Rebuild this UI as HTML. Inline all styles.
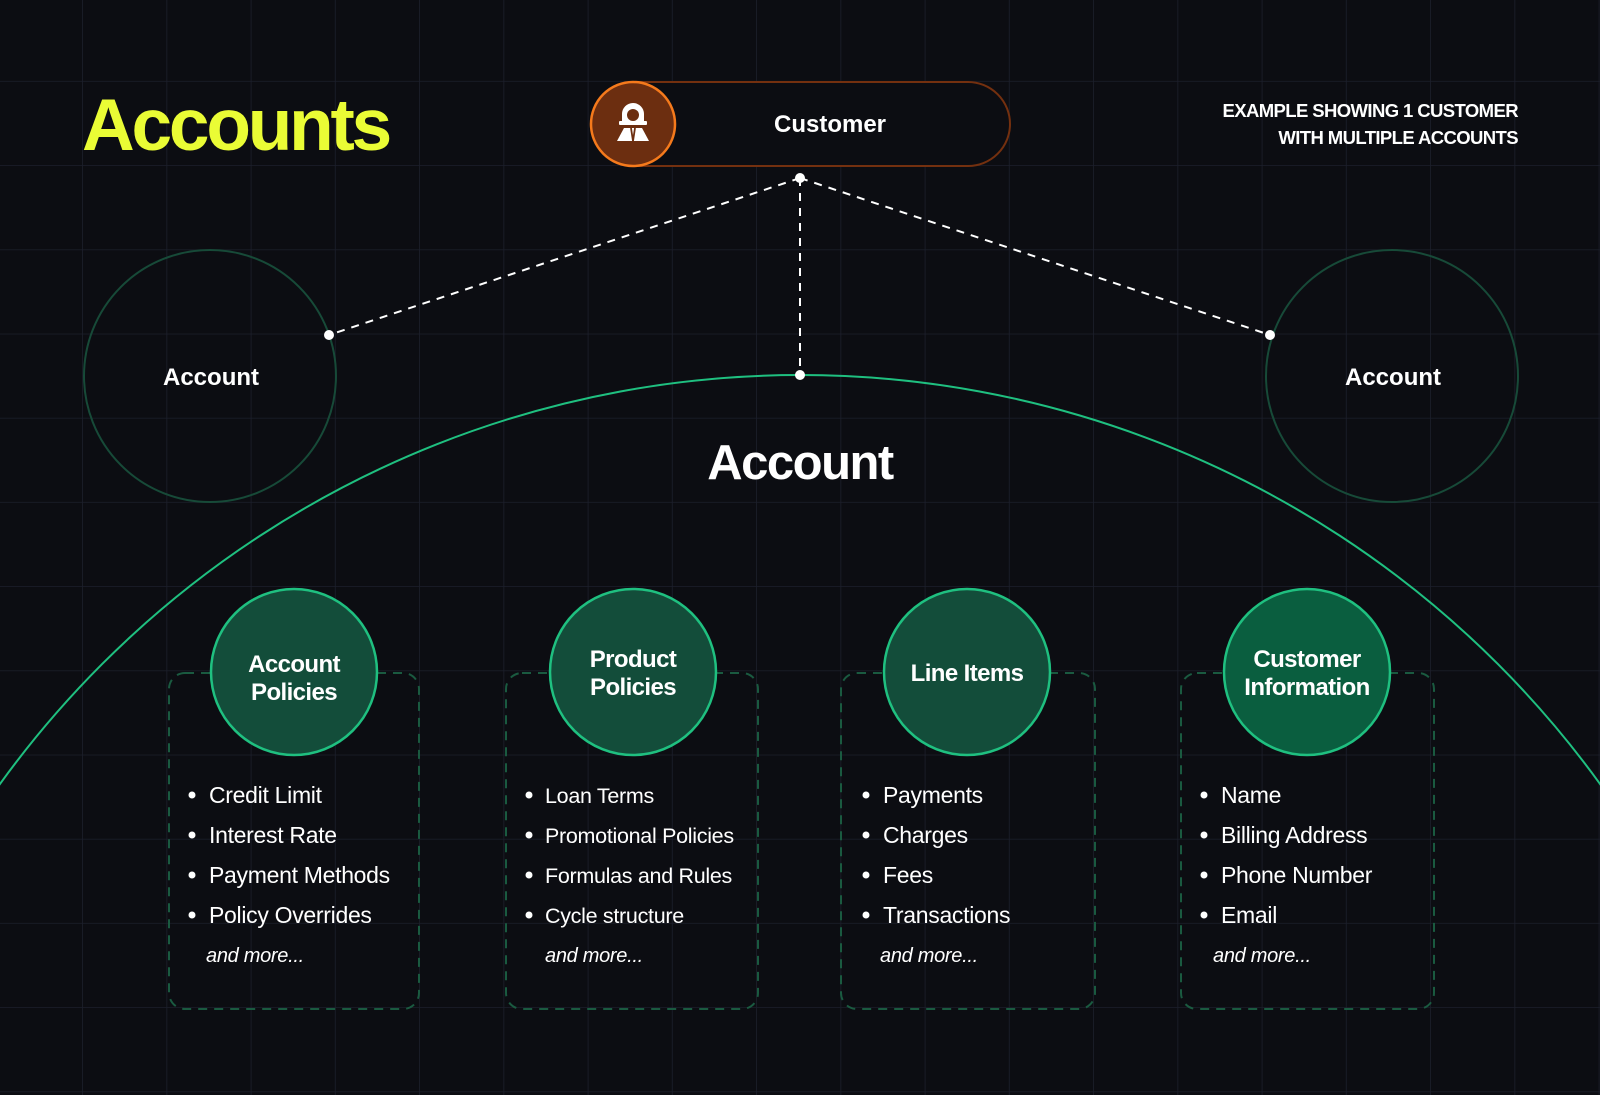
<!DOCTYPE html>
<html><head><meta charset="utf-8"><style>
html,body{margin:0;padding:0;background:#0c0d12;width:1600px;height:1095px;overflow:hidden;}
svg{display:block;}
text{font-family:"Liberation Sans",sans-serif;}
</style></head><body>
<svg width="1600" height="1095" viewBox="0 0 1600 1095" xmlns="http://www.w3.org/2000/svg">
<defs>
<pattern id="g" width="84.25" height="84.2" patternUnits="userSpaceOnUse" x="-1.25" y="-2.4">
<path d="M84.25 0V84.2M0 84.2H84.25" stroke="#1c1f2b" stroke-width="1.6" fill="none"/>
</pattern>
<clipPath id="c"><rect width="1600" height="1095"/></clipPath>
</defs>
<rect width="1600" height="1095" fill="#0c0d12"/>
<rect width="1600" height="1095" fill="url(#g)"/>

<text x="82" y="150" font-size="73" font-weight="bold" fill="#eafc35" letter-spacing="-3.2">Accounts</text>

<text x="1518" y="117" font-size="18.5" font-weight="bold" fill="#fff" text-anchor="end" letter-spacing="-0.6">EXAMPLE SHOWING 1 CUSTOMER</text>
<text x="1518" y="144" font-size="18.5" font-weight="bold" fill="#fff" text-anchor="end" letter-spacing="-0.6">WITH MULTIPLE ACCOUNTS</text>

<!-- customer pill -->
<rect x="592" y="82" width="418" height="84" rx="42" fill="#0c0d12" stroke="#74300f" stroke-width="2"/>
<circle cx="633" cy="124" r="42" fill="#6c2e10" stroke="#f57a1c" stroke-width="2.5"/>
<g fill="#fff">
<path d="M622 123V114A11 11 0 0 1 644 114V123Z"/>
<rect x="619" y="121" width="28" height="4" rx="1"/>
<path d="M624 128H642L649 141H617Z"/>
</g>
<circle cx="633" cy="115" r="6" fill="#6c2e10"/>
<path d="M631 128L633 141L635 128" stroke="#6c2e10" stroke-width="1.8" fill="none"/>
<text x="830" y="132" font-size="24" font-weight="bold" fill="#fff" text-anchor="middle">Customer</text>

<!-- account circles -->
<circle cx="210" cy="376" r="126" fill="none" stroke="#174a38" stroke-width="2"/>
<circle cx="1392" cy="376" r="126" fill="none" stroke="#174a38" stroke-width="2"/>
<text x="211" y="385" font-size="24" font-weight="bold" fill="#fff" text-anchor="middle">Account</text>
<text x="1393" y="385" font-size="24" font-weight="bold" fill="#fff" text-anchor="middle">Account</text>

<!-- big arc -->
<circle cx="800" cy="1362" r="987" fill="none" stroke="#1fc080" stroke-width="2" clip-path="url(#c)"/>
<text x="800" y="479" font-size="49" font-weight="bold" fill="#fff" text-anchor="middle" letter-spacing="-1.5">Account</text>

<!-- dashed connectors -->
<g stroke="#fff" stroke-width="2" stroke-dasharray="8 7" fill="none">
<path d="M800 178L329 335"/>
<path d="M800 178L1270 335"/>
<path d="M800 178V375"/>
</g>
<g fill="#fff">
<circle cx="800" cy="178" r="5"/><circle cx="329" cy="335" r="5"/><circle cx="1270" cy="335" r="5"/><circle cx="800" cy="375" r="5"/>
</g>

<!-- boxes -->
<g fill="none" stroke="#1a5a40" stroke-width="2" stroke-dasharray="9 7">
<rect x="169" y="673" width="250" height="336" rx="16"/>
<rect x="506" y="673" width="252" height="336" rx="16"/>
<rect x="841" y="673" width="254" height="336" rx="16"/>
<rect x="1181" y="673" width="253" height="336" rx="16"/>
</g>

<!-- category circles -->
<g stroke="#1fc080" stroke-width="2.5">
<circle cx="294" cy="672" r="83" fill="#134d3a"/>
<circle cx="633" cy="672" r="83" fill="#134d3a"/>
<circle cx="967" cy="672" r="83" fill="#134d3a"/>
<circle cx="1307" cy="672" r="83" fill="#0a5e3f"/>
</g>
<g font-size="24" font-weight="bold" fill="#fff" text-anchor="middle" letter-spacing="-0.6">
<text x="294" y="672">Account</text><text x="294" y="700">Policies</text>
<text x="633" y="667">Product</text><text x="633" y="695">Policies</text>
<text x="967" y="681">Line Items</text>
<text x="1307" y="667">Customer</text><text x="1307" y="695">Information</text>
</g>

<!-- lists -->
<g font-size="23" fill="#fff" letter-spacing="-0.3">
<g>
<text x="209" y="803">Credit Limit</text><text x="209" y="843">Interest Rate</text><text x="209" y="883">Payment Methods</text><text x="209" y="923">Policy Overrides</text>
<text x="206" y="962" font-size="20" font-style="italic">and more...</text>
</g>
<g font-size="21.5">
<text x="545" y="803">Loan Terms</text><text x="545" y="843">Promotional Policies</text><text x="545" y="883">Formulas and Rules</text><text x="545" y="923">Cycle structure</text>
<text x="545" y="962" font-size="20" font-style="italic">and more...</text>
</g>
<g>
<text x="883" y="803">Payments</text><text x="883" y="843">Charges</text><text x="883" y="883">Fees</text><text x="883" y="923">Transactions</text>
<text x="880" y="962" font-size="20" font-style="italic">and more...</text>
</g>
<g>
<text x="1221" y="803">Name</text><text x="1221" y="843">Billing Address</text><text x="1221" y="883">Phone Number</text><text x="1221" y="923">Email</text>
<text x="1213" y="962" font-size="20" font-style="italic">and more...</text>
</g>
</g>
<g fill="#fff">
<circle cx="192" cy="795" r="3.5"/><circle cx="192" cy="835" r="3.5"/><circle cx="192" cy="875" r="3.5"/><circle cx="192" cy="915" r="3.5"/>
<circle cx="529" cy="795" r="3.5"/><circle cx="529" cy="835" r="3.5"/><circle cx="529" cy="875" r="3.5"/><circle cx="529" cy="915" r="3.5"/>
<circle cx="866" cy="795" r="3.5"/><circle cx="866" cy="835" r="3.5"/><circle cx="866" cy="875" r="3.5"/><circle cx="866" cy="915" r="3.5"/>
<circle cx="1204" cy="795" r="3.5"/><circle cx="1204" cy="835" r="3.5"/><circle cx="1204" cy="875" r="3.5"/><circle cx="1204" cy="915" r="3.5"/>
</g>
</svg>
</body></html>
